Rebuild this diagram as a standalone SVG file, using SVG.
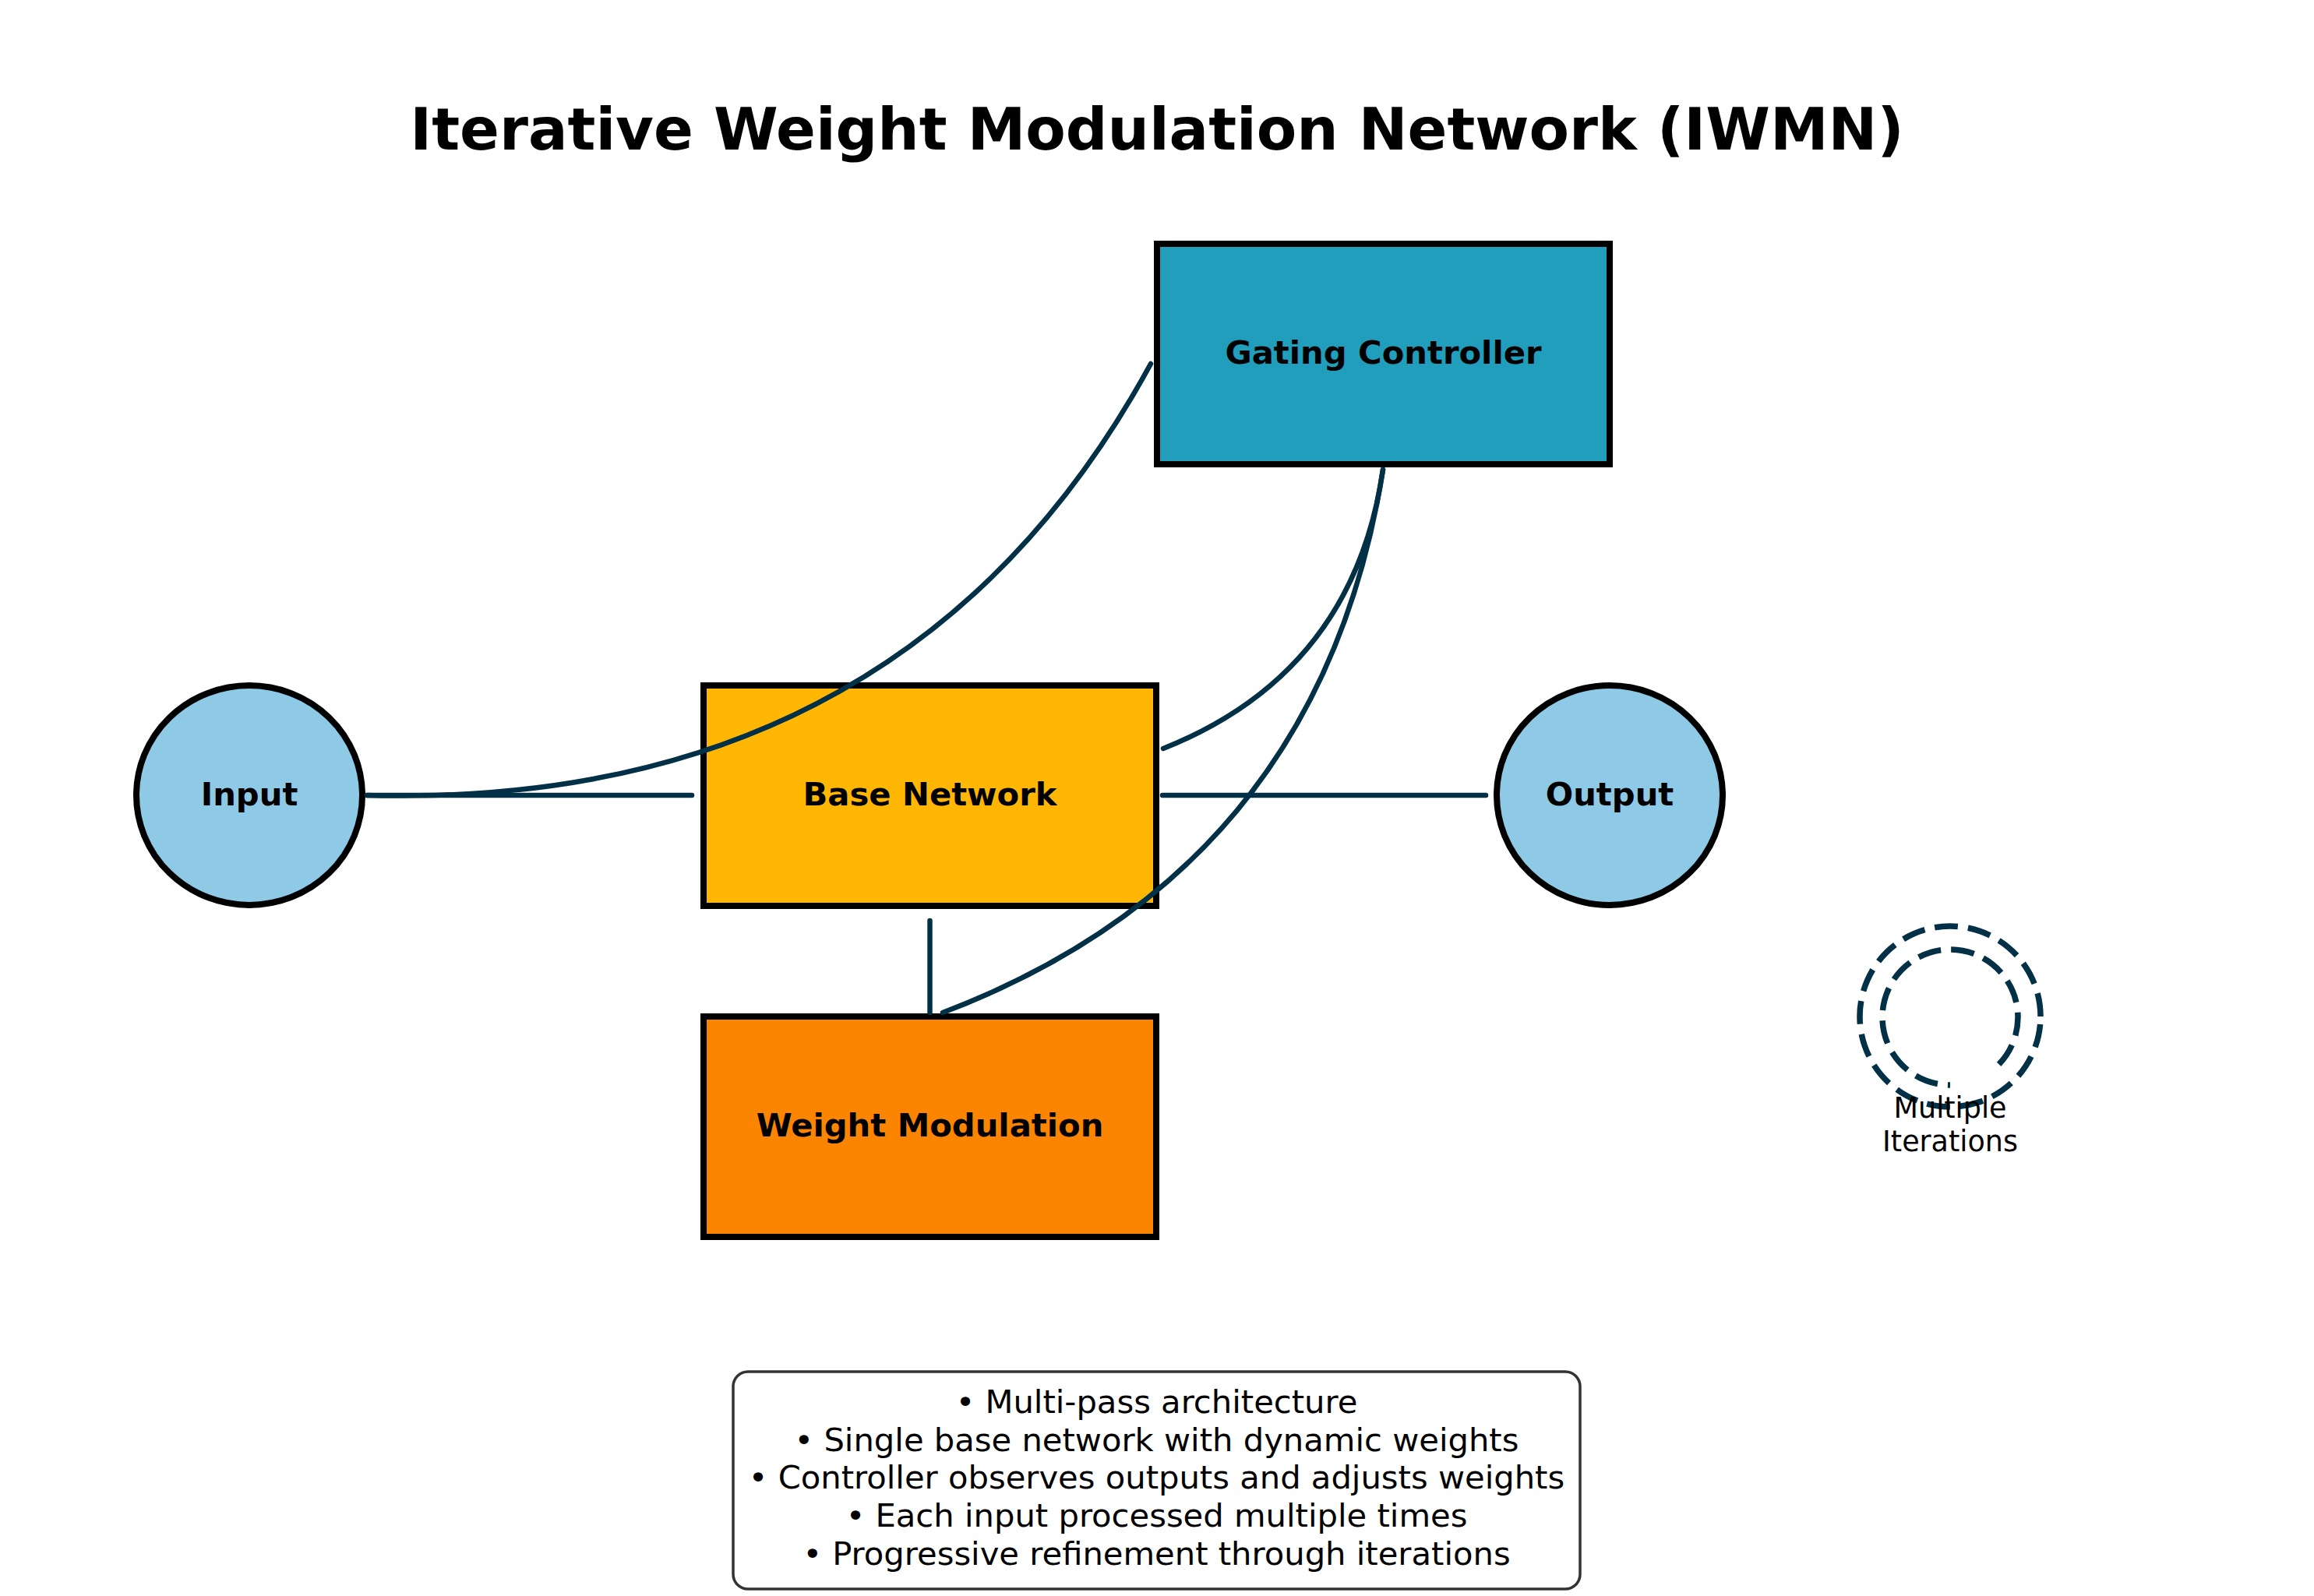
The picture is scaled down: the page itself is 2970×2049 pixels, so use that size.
<svg xmlns="http://www.w3.org/2000/svg" width="2970" height="2049" viewBox="0 0 2970 2049">
<style>
  .box { stroke: #000000; stroke-width: 8; }
  .lbl { font-family: "DejaVu Sans", "Liberation Sans", sans-serif; font-weight: bold; font-size: 41.7px; fill: #000000; text-anchor: middle; }
  .conn { fill: none; stroke: #023047; stroke-width: 6.5; stroke-linecap: round; }
  .dash { fill: none; stroke: #023047; stroke-width: 7.5; stroke-dasharray: 30 13; }
  .body { font-family: "DejaVu Sans", "Liberation Sans", sans-serif; font-size: 41.7px; fill: #000000; text-anchor: middle; }
  .small { font-family: "DejaVu Sans", "Liberation Sans", sans-serif; font-size: 36.5px; fill: #000000; text-anchor: middle; }
</style>
<rect x="0" y="0" width="2970" height="2049" fill="#ffffff"/>
<text x="1485" y="192" font-family="DejaVu Sans, Liberation Sans, sans-serif" font-weight="bold" font-size="75" text-anchor="middle" fill="#000000">Iterative Weight Modulation Network (IWMN)</text>

<g id="gating-controller">
  <rect class="box" x="1485" y="313" width="581" height="283" fill="#219EBC"/>
  <text class="lbl" x="1775.5" y="467">Gating Controller</text>
</g>
<g id="base-network">
  <rect class="box" x="903" y="880" width="581" height="283" fill="#FFB703"/>
  <text class="lbl" x="1193.5" y="1034">Base Network</text>
</g>
<g id="weight-modulation">
  <rect class="box" x="903" y="1305" width="581" height="283" fill="#FB8500"/>
  <text class="lbl" x="1193.5" y="1459">Weight Modulation</text>
</g>
<g id="input">
  <ellipse class="box" cx="320" cy="1021" rx="145" ry="141" fill="#8ECAE6"/>
  <text class="lbl" x="320" y="1034">Input</text>
</g>
<g id="output">
  <ellipse class="box" cx="2066" cy="1021" rx="145" ry="141" fill="#8ECAE6"/>
  <text class="lbl" x="2066" y="1034">Output</text>
</g>

<g id="connectors">
  <path class="conn" d="M 471 1021 L 888 1021"/>
  <path class="conn" d="M 1492 1021 L 1907 1021"/>
  <path class="conn" d="M 1193.5 1182 L 1193.5 1300"/>
  <path class="conn" d="M 471 1021 Q 1165 1040 1477 467"/>
  <path class="conn" d="M 1775 603 Q 1737 864 1493 961"/>
  <path class="conn" d="M 1775 603 Q 1694 1116 1210 1300"/>
</g>

<g id="iterations">
  <path class="dash" d="M 2619 1305 A 116 116 0 1 0 2387 1305 A 116 116 0 1 0 2619 1305"/>
  <path class="dash" d="M 2565.6 1366.4 A 87 87 0 1 0 2503 1393"/>
  <text class="small" x="2503" y="1435">Multiple</text>
  <text class="small" x="2503" y="1478">Iterations</text>
</g>

<g id="info-box">
  <rect x="941" y="1761" width="1087" height="279" rx="19" ry="19" fill="#ffffff" stroke="#333333" stroke-width="3.5"/>
  <text class="body" x="1484.5" y="1814">• Multi-pass architecture</text>
  <text class="body" x="1484.5" y="1863">• Single base network with dynamic weights</text>
  <text class="body" x="1484.5" y="1911">• Controller observes outputs and adjusts weights</text>
  <text class="body" x="1484.5" y="1960">• Each input processed multiple times</text>
  <text class="body" x="1484.5" y="2009">• Progressive refinement through iterations</text>
</g>
</svg>
